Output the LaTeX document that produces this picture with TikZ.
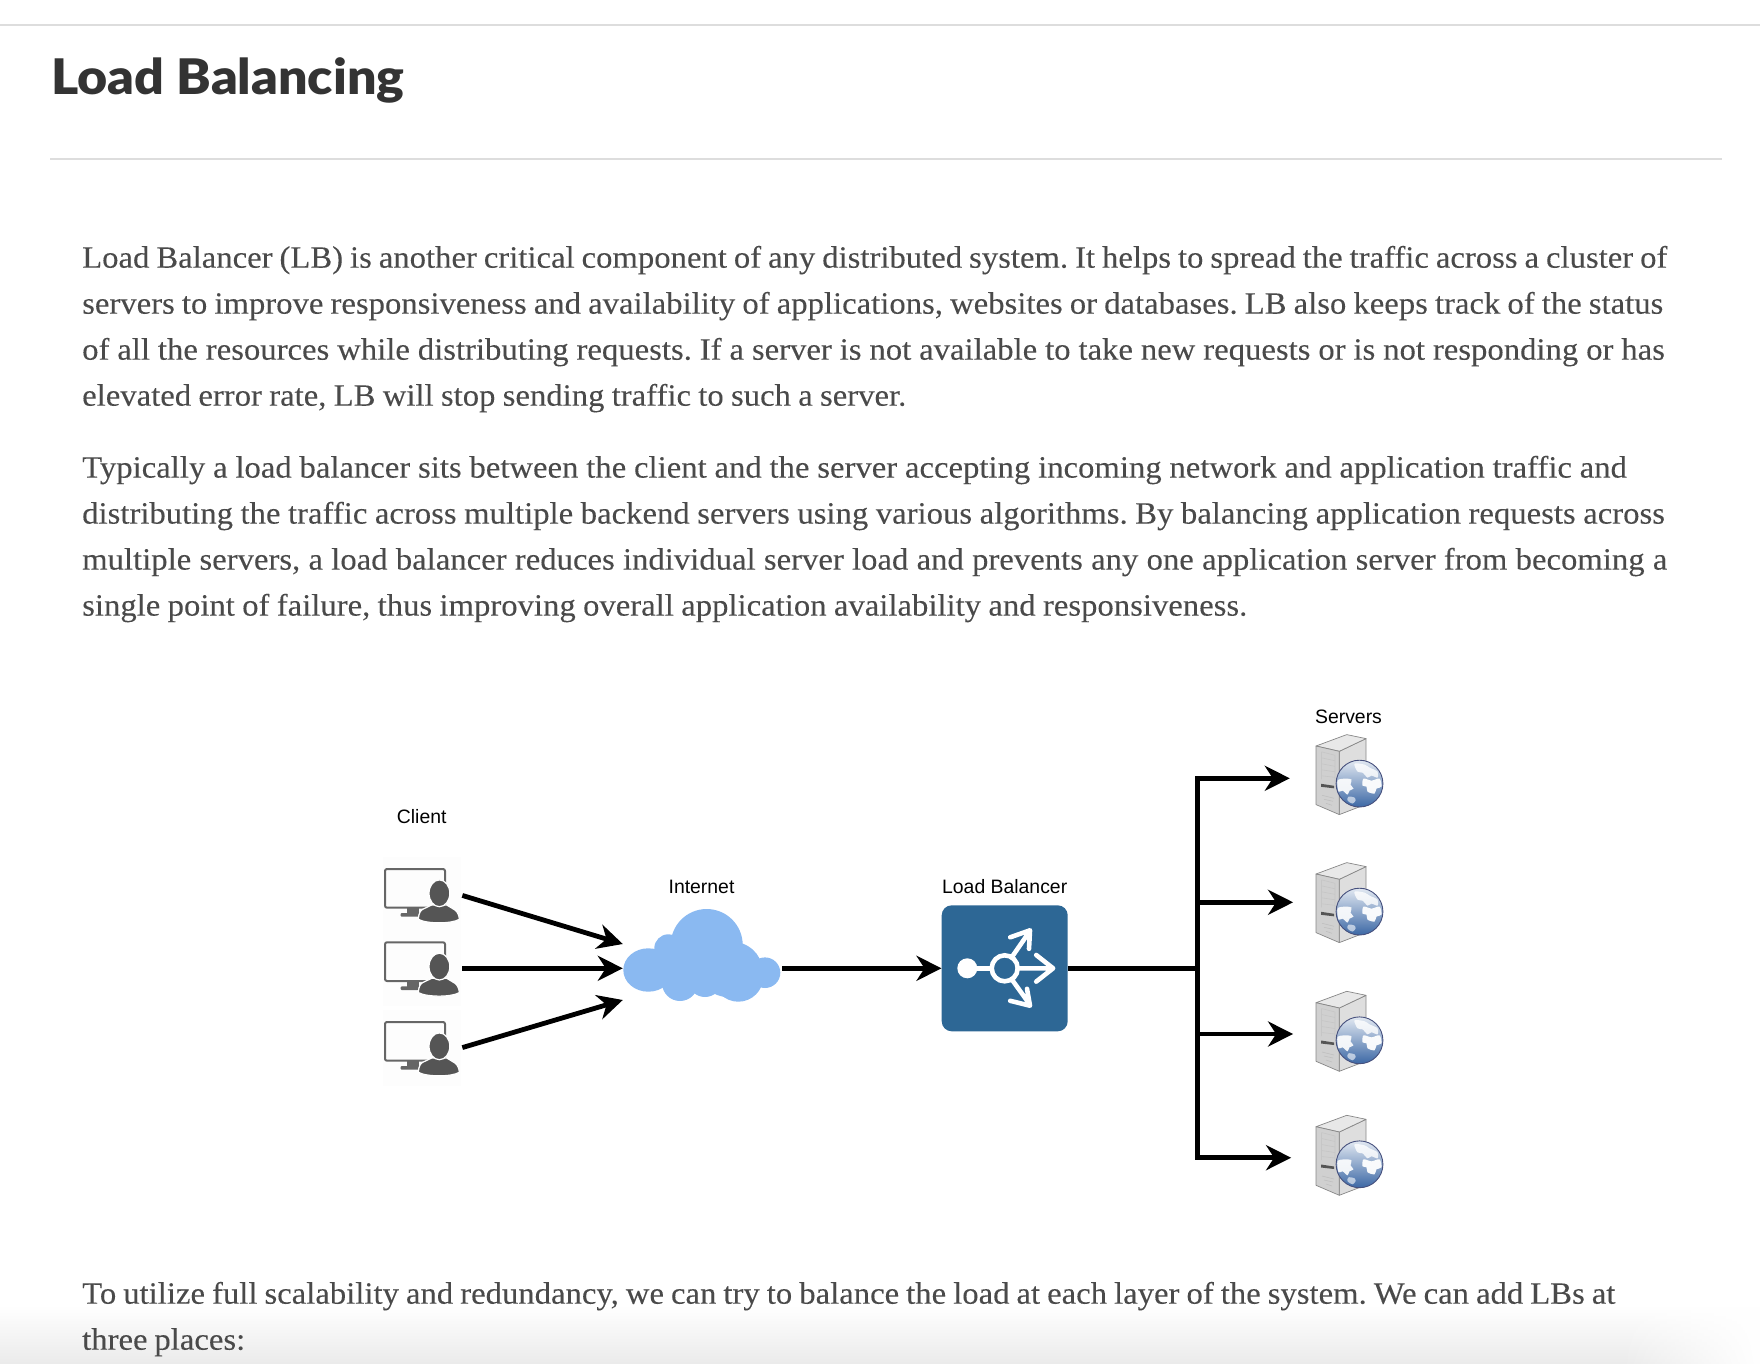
\documentclass[tikz,border=0pt]{standalone}
\usepackage{fontspec}
\usetikzlibrary{arrows.meta, positioning, fadings}

\setmainfont{Liberation Serif}[FakeStretch=1.055, WordSpace=0.85, FakeBold=0.12]
\newfontfamily\titlefont{Lato}[BoldFont={Lato Black}, FakeStretch=1.06]
\newfontfamily\labelfont{Liberation Sans}

% one printed line, set to the width it has on the page
\newcommand{\fitline}[2]{\makebox[#1pt][s]{#2}}

\definecolor{colorRule}{RGB}{221,221,221}
\definecolor{colorTitle}{RGB}{51,51,51}
\definecolor{colorBody}{RGB}{74,74,74}
\definecolor{colorTile}{RGB}{253,253,253}
\definecolor{colorPerson}{RGB}{85,85,85}
\definecolor{colorCloud}{RGB}{138,185,241}
\definecolor{colorLB}{RGB}{45,103,149}
\definecolor{colorCase}{RGB}{208,208,208}
\definecolor{colorCaseSide}{RGB}{222,222,222}
\definecolor{colorCaseTop}{RGB}{232,232,232}
\definecolor{colorCaseLine}{RGB}{135,135,135}
\definecolor{colorGlobe}{RGB}{60,104,165}
\definecolor{colorGlobeEdge}{RGB}{70,80,125}

\tikzset{
    bodytext/.style={
        anchor=base west,
        align=left,
        inner sep=0pt,
        text=colorBody,
        font=\fontsize{31}{46}\selectfont\frenchspacing
    },
    iconlabel/.style={
        inner sep=0pt,
        text=black,
        font=\labelfont\fontsize{19.4}{21}\selectfont
    },
    ruleline/.style={colorRule, line width=2pt},
    link/.style={black, line width=4.8pt},
    clienttile/.style={
        fill=colorTile,
        minimum width=78pt,
        minimum height=76pt,
        inner sep=0pt
    },
    serverbox/.style={
        minimum width=67pt,
        minimum height=81pt,
        inner sep=0pt
    },
    % monitor with a user in front of it
    clienticon/.pic={
        \draw[colorPerson!90, line width=2pt, rounded corners=2pt]
            (-36.7,-26) rectangle (23.3,12.7);
        \fill[colorPerson!90] (-15,13) rectangle (-3,19);
        \fill[colorPerson!90, rounded corners=1pt] (-21,18) rectangle (-3,21.7);
        \fill[colorPerson, draw=white, line width=1.2pt]
            (-3.4,24.3) .. controls (-3,18) and (-1,15) .. (1.6,14)
            -- (10,10) -- (25,10) -- (33.3,15)
            .. controls (36,17) and (37.6,21) .. (37.6,24.3)
            .. controls (30,29) and (5,29) .. (-3.4,24.3) -- cycle;
        \fill[colorPerson, draw=white, line width=1.2pt]
            (17.7,-1.7) ellipse [x radius=10.4, y radius=13.4];
    },
    % cloud made of overlapping lobes
    cloudicon/.pic={
        \fill[colorCloud] (5.2,-23.3) circle [radius=36];
        \fill[colorCloud] (-53.2,1.7) ellipse [x radius=25, y radius=21.7];
        \fill[colorCloud] (-33.2,-20) circle [radius=14];
        \fill[colorCloud] (63.5,4.4) circle [radius=15.3];
        \fill[colorCloud] (36.8,8.4) circle [radius=25];
        \fill[colorCloud] (28.5,1) ellipse [x radius=32, y radius=28];
        \fill[colorCloud] (-21.5,14.7) circle [radius=18];
        \fill[colorCloud] (3.5,11.7) circle [radius=17];
        \fill[colorCloud] (-40,-15) rectangle (40,12);
    },
    % white router symbol inside the balancer box
    lbicon/.pic={
        \fill[white] (-37.4,0) circle [radius=10];
        \draw[white, line width=4.4pt] (-37.4,0) -- (-13,0);
        \draw[white, line width=4.6pt] (0,0) circle [radius=13];
        \draw[white, line width=4.6pt, line cap=round, line join=round]
            (13,0) -- (48,0)
            (31.5,-13.3) -- (48.4,0) -- (31.5,13.3)
            (7,-11) -- (25,-37)
            (5.5,-31) -- (25.3,-38) -- (24.3,-19.5)
            (7,11) -- (25,36)
            (5.5,32.5) -- (25.3,37.4) -- (22.3,20.5);
    },
    % tower case with a globe in front of it
    servericon/.pic={
        \begin{scope}[shift={(-32.5,-40.5)}]
            \filldraw[fill=colorCaseSide, draw=colorCaseLine, line width=0.7pt, line join=round]
                (23.3,17) -- (50,4.3) -- (50,70) -- (23.3,80.3) -- cycle;
            \filldraw[fill=colorCaseTop, draw=colorCaseLine, line width=0.7pt, line join=round]
                (0,11.7) -- (30.7,0.3) -- (50,4.3) -- (23.3,17) -- cycle;
            \filldraw[fill=colorCase, draw=colorCaseLine, line width=0.7pt, line join=round]
                (0,11.7) -- (23.3,17) -- (23.3,80.3) -- (0,70.3) -- cycle;
            \draw[gray!45, line width=0.6pt]
                (5.5,17.5) -- (19,21) (5.5,23.5) -- (19,26.5) (5.5,29.5) -- (19,32)
                (5.5,35.5) -- (19,37.5) (5.5,41.5) -- (19,43) (5.5,17.5) -- (5.5,45) (19,21) -- (19,48);
            \fill[colorPerson] (5,49.5) -- (18,51.5) -- (18,54) -- (5,52.5) -- cycle;
            \draw[gray!50, line width=0.6pt]
                (6,61) -- (18,64) (8,65) -- (17,67) (10,69) -- (16,71);
            \shade[top color=colorGlobe!15!white, middle color=colorGlobe!55!white, bottom color=colorGlobe]
                (43.5,49.3) circle [radius=23.4];
            \begin{scope}[shift={(43.5,49.3)}]
                \fill[white, opacity=0.9] plot[smooth cycle, tension=0.5] coordinates
                    {(-22,-3) (-15,-5) (-8,-4) (-9,1) (-6,5) (-10,7) (-12,11) (-17,7) (-21,8)};
                \fill[white, opacity=0.8] plot[smooth cycle, tension=0.5] coordinates
                    {(-5,-20) (5,-19) (10,-16) (18,-12) (18,-6) (12,-8) (8,-6) (3,-11) (-2,-12)};
                \fill[white, opacity=0.95] plot[smooth cycle, tension=0.5] coordinates
                    {(4,-5) (12,-3) (20,-5) (22,3) (17,5) (15,10) (8,8) (7,3) (3,2)};
                \fill[white, opacity=0.6] plot[smooth cycle, tension=0.5] coordinates
                    {(-11,13) (-5,14) (-4,17) (-7,20) (-12,17)};
            \end{scope}
            \draw[colorGlobeEdge, line width=0.9pt] (43.5,49.3) circle [radius=23.4];
        \end{scope}
    }
}

\begin{document}
\begin{tikzpicture}[
    x=1pt, y=-1pt,
    >={Stealth[length=25pt, width=25pt, inset=8pt]},
    on grid
]
\useasboundingbox (0,0) rectangle (1760,1364);

%--- Page furniture ---
\shade[top color=white, bottom color=black!8] (0,1305) rectangle (1760,1364);
\fill[white, path fading=west] (1620,1290) rectangle (1760,1364);
\draw[ruleline] (0,24.7) -- (1760,24.7);
\draw[ruleline] (50,159) -- (1722,159);

\node[anchor=base west, inner sep=0pt, text=colorTitle, font=\titlefont\bfseries\fontsize{49}{52}\selectfont] (title) at (51,95)
{Load Balancing};

%--- Text ---
\node[bodytext] (para_lb) at (82,405.7)
{\fitline{1585}{Load Balancer (LB) is another critical component of any distributed system. It helps to spread the traffic across a cluster of}\\
\fitline{1581}{servers to improve responsiveness and availability of applications, websites or databases. LB also keeps track of the status}\\
\fitline{1582.6}{of all the resources while distributing requests. If a server is not available to take new requests or is not responding or has}\\
\fitline{824}{elevated error rate, LB will stop sending traffic to such a server.}};

\node[bodytext] (para_typical) at (82,615.6)
{\fitline{1544.5}{Typically a load balancer sits between the client and the server accepting incoming network and application traffic and}\\
\fitline{1582.6}{distributing the traffic across multiple backend servers using various algorithms. By balancing application requests across}\\
\fitline{1585}{multiple servers, a load balancer reduces individual server load and prevents any one application server from becoming a}\\
\fitline{1165}{single point of failure, thus improving overall application availability and responsiveness.}};

\node[bodytext] (para_layers) at (82,1349.7)
{\fitline{1533}{To utilize full scalability and redundancy, we can try to balance the load at each layer of the system. We can add LBs at}\\
\fitline{163}{three places:}};

%--- Clients ---
\node[clienttile] (client1) at (421.7,895) {};
\node[clienttile, below=73.3pt of client1] (client2) {};
\node[clienttile, below=79.7pt of client2] (client3) {};
\pic at (client1) {clienticon};
\pic at (client2) {clienticon};
\pic at (client3) {clienticon};
\node[iconlabel, above=78pt of client1] (client_label) {Client};

%--- Internet ---
\node[minimum width=157pt, minimum height=118.6pt, inner sep=0pt] (internet) at (701.5,968.3) {};
\pic at (internet) {cloudicon};
\node[iconlabel, above=81.4pt of internet] (internet_label) {Internet};

%--- Load balancer ---
\node[fill=colorLB, rounded corners=10pt, minimum size=126pt, inner sep=0pt] (lb) at (1004.7,968.3) {};
\pic at (lb) {lbicon};
\node[iconlabel, above=82pt of lb] (lb_label) {Load Balancer};

\coordinate[right=192.6pt of lb] (hub);

%--- Servers ---
\node[serverbox] (server1) at (1348.5,774.8) {};
\node[serverbox, below=128pt of server1] (server2) {};
\node[serverbox, below=128.7pt of server2] (server3) {};
\node[serverbox, below=124pt of server3] (server4) {};
\pic at (server1) {servericon};
\pic at (server2) {servericon};
\pic at (server3) {servericon};
\pic at (server4) {servericon};
\node[iconlabel, above=58pt of server1] (server_label) {Servers};

%--- Connectors ---
\draw[link, ->, shorten <=1.5pt] (client1.east) -- ([yshift=24.3pt]internet.west);
\draw[link, ->, shorten <=1.5pt] (client2.east) -- (internet.west);
\draw[link, ->, shorten <=1.5pt] (client3.east) -- ([yshift=-31.7pt]internet.west);

\draw[link, ->, shorten <=2pt] (internet.east) -- (lb.west);
\draw[link] (lb.east) -- (hub);

\draw[link, ->] (hub) |- ([xshift=-25pt, yshift=-3.5pt]server1.west);
\draw[link, ->] (hub) |- ([xshift=-21.7pt, yshift=0.5pt]server2.west);
\draw[link, ->] (hub) |- ([xshift=-21.7pt, yshift=-2.5pt]server3.west);
\draw[link, ->] (hub) |- ([xshift=-23.7pt, yshift=-2.2pt]server4.west);

\end{tikzpicture}
\end{document}
